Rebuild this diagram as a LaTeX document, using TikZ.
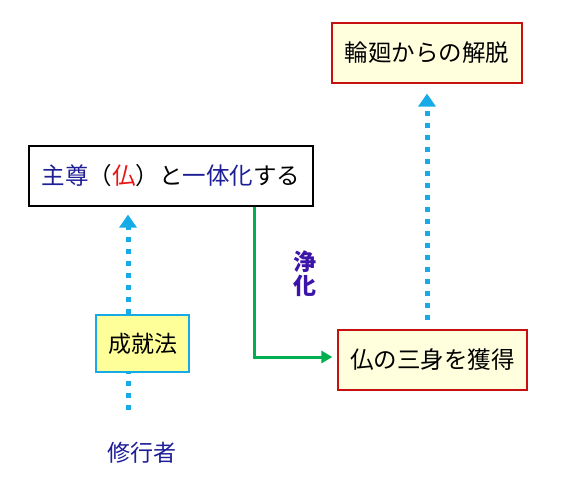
\documentclass[tikz,border=0pt]{standalone}
\usepackage{fontspec}
\setmainfont{Noto Sans CJK JP}
\usepackage{xcolor}
\usepackage{tikz}
\usetikzlibrary{positioning, arrows.meta}

\definecolor{dotblue}{RGB}{22,170,230}
\definecolor{leafgreen}{RGB}{0,176,80}
\definecolor{darkred}{RGB}{200,16,16}
\definecolor{paleyellow}{RGB}{255,255,222}
\definecolor{lemon}{RGB}{255,255,153}
\definecolor{navyblue}{RGB}{30,30,150}
\definecolor{violetblue}{RGB}{60,20,170}
\definecolor{brightred}{RGB}{235,20,20}

\begin{document}
\begin{tikzpicture}[x=1pt, y=-1pt,
            goal/.style={rectangle, draw=darkred, line width=1.2pt, fill=paleyellow, minimum height=60pt, inner sep=0pt, font=\fontsize{23.5}{27}\selectfont},
            plain/.style={rectangle, draw=black, line width=1.2pt, fill=white, minimum height=60pt, inner sep=0pt, font=\fontsize{23.5}{27}\selectfont},
            method/.style={rectangle, draw=dotblue, line width=2pt, fill=lemon, minimum width=93pt, minimum height=57pt, inner sep=0pt, font=\fontsize{23}{27}\selectfont},
            dotarrow/.style={draw=dotblue, line width=5pt, line cap=butt, dash pattern=on 5pt off 7pt, -{Triangle[width=17pt, length=13pt]}},
            greenarrow/.style={draw=leafgreen, line width=3pt, -{Triangle[width=12pt, length=11pt]}}
        ]
            \useasboundingbox (0,0) rectangle (565,487);

            \node[goal, minimum width=190pt] (release) at (427,53) {輪廻からの解脱};
            \node[plain, minimum width=284pt] (union) at (171,176) {\textcolor{navyblue}{主尊}（\textcolor{brightred}{仏}）と\textcolor{navyblue}{一体化}する};
            \node[goal, minimum width=189pt] (threebody) at (432.5,360) {仏の三身を獲得};
            \node[font=\fontsize{23}{27}\selectfont, text=navyblue] (practitioner) at (142,453) {修行者};
            \node[font=\fontsize{23}{25}\selectfont\bfseries, text=violetblue, align=center] (purify) at (305,274) {浄\\[-1pt]化};

            \coordinate (leftfoot) at (128,410);
            \coordinate (bend) at (254,0);

            \draw[dotarrow, shorten >=8pt] (leftfoot) -- (union.south -| leftfoot);
            \draw[dotarrow, shorten <=9pt, shorten >=10pt] (threebody.north -| release) -- (release.south);
            \draw[greenarrow, shorten >=5pt] (union.south -| bend) |- ([yshift=3pt]threebody.west);

            \node[method] (siddhi) at (142.5,343.5) {成就法};

        \end{tikzpicture}
\end{document}
